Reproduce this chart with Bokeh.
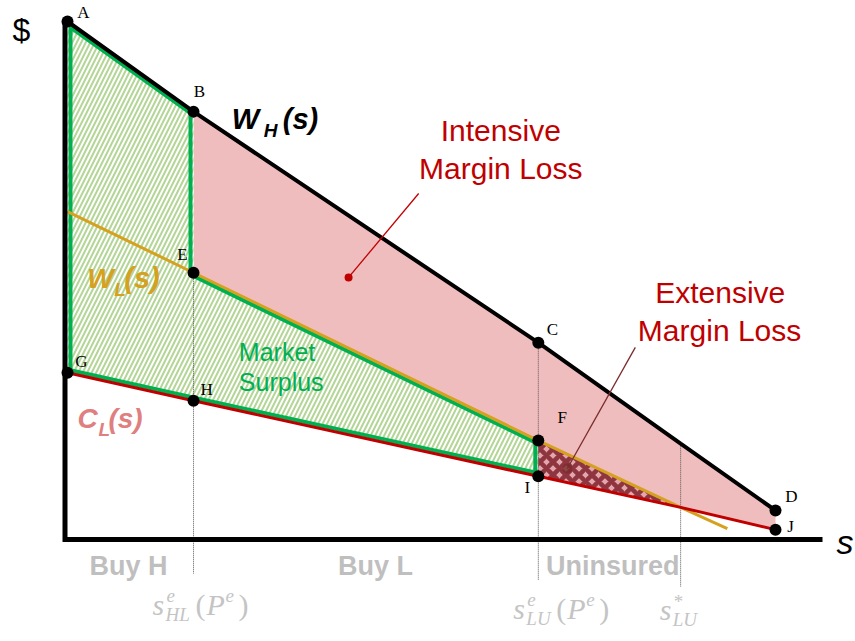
import numpy as np
from bokeh.plotting import figure
from bokeh.models import Range1d
from bokeh.core.properties import value
from bokeh.embed import file_html
from bokeh.resources import INLINE

# ---------------- data ----------------
# s positions: 0, s^e_HL(P^e), s^e_LU(P^e), s*_LU, s_max
s_keys = [0.0, 1.78, 6.65, 8.66, 10.0]
W_H_vals = [10.0, 8.26, 3.80, 1.85, 0.56]
W_L_s = [0.0, 1.78, 6.65, 8.66, 9.32]
W_L_vals = [6.33, 5.15, 1.91, 0.62, 0.21]
C_L_vals = [3.22, 2.68, 1.22, 0.62, 0.19]
point_names = ["A", "B", "C", "D", "E", "F", "G", "H", "I", "J"]
region_labels = ["Buy H", "Buy L", "Uninsured"]
region_centers = [0.86, 4.35, 7.70]

# ---------------- scale (pixels per data unit) ----------------
PXS = 70.8
PXD = 51.8
W, H = 854, 640
x0 = -67 / PXS
y1 = 539 / PXD
xr = Range1d(x0, x0 + W / PXS)
yr = Range1d(y1 - H / PXD, y1)

p = figure(width=W, height=H, x_range=xr, y_range=yr, output_backend="svg",
           toolbar_location=None, x_axis_type=None, y_axis_type=None, min_border=0)
p.grid.visible = False
p.outline_line_color = None
p.background_fill_color = "white"
p.border_fill_color = "white"

s0, s1, s2, s3, s4 = s_keys
pt = {
    "A": (s0, W_H_vals[0]), "B": (s1, W_H_vals[1]), "C": (s2, W_H_vals[2]), "D": (s4, W_H_vals[4]),
    "E": (s1, W_L_vals[1]), "F": (s2, W_L_vals[2]),
    "G": (s0, C_L_vals[0]), "H": (s1, C_L_vals[1]), "I": (s2, C_L_vals[2]), "J": (s4, C_L_vals[4]),
}
X = (s3, W_L_vals[3])  # crossing of W_L and C_L

GREEN = "#00b050"
RED = "#c00000"
GOLD = "#d5a11e"
PINK = "#efbdbd"

# pink: intensive margin loss region
pink = [pt["B"], pt["C"], pt["D"], pt["J"], X, pt["F"], pt["E"]]
p.patch([q[0] for q in pink], [q[1] for q in pink], fill_color=PINK, line_color=None)

# green hatched market surplus
green = [pt["A"], pt["B"], pt["E"], pt["F"], pt["I"], pt["H"], pt["G"]]
p.patch([q[0] for q in green], [q[1] for q in green], fill_color="white", fill_alpha=1.0,
        line_color=None, hatch_pattern="/", hatch_color="#b3d596", hatch_scale=9, hatch_weight=2)

# checker: extensive margin loss
chk = [pt["F"], pt["I"], X]
p.patch([q[0] for q in chk], [q[1] for q in chk], fill_color="#e3a6ad", line_color=None,
        hatch_pattern="diagonal_cross", hatch_color="#8e3540", hatch_scale=13, hatch_weight=4.5)

# dotted verticals
for sx, top, bot in [(s1, W_L_vals[1], 573), (s2, W_H_vals[2], 580), (s3, W_H_vals[3], 586)]:
    p.line([sx, sx], [top, (539 - bot) / PXD], line_color="#555555", line_width=1, line_dash="1 1")

# inset green outline (computed in pixel space)
def inset(poly, d):
    P = [np.array([x * PXS, y * PXD]) for x, y in poly]
    n = len(P)
    lines = []
    for i in range(n):
        a, b = P[i], P[(i + 1) % n]
        r = b - a
        nrm = np.array([r[1], -r[0]]) / np.hypot(*r)
        lines.append((a + nrm * d, r))
    out = []
    for i in range(n):
        (p1, r1), (p2, r2) = lines[i - 1], lines[i]
        cr = r1[0] * r2[1] - r1[1] * r2[0]
        q = p2 - p1
        t = (q[0] * r2[1] - q[1] * r2[0]) / cr
        v = p1 + t * r1
        out.append((v[0] / PXS, v[1] / PXD))
    return out

gi = inset(green, 3.0)
p.patch([q[0] for q in gi], [q[1] for q in gi], fill_color=None, line_color=GREEN,
        line_width=4, line_join="miter")

# curves
p.line(W_L_s, W_L_vals, line_color=GOLD, line_width=3)
p.line(s_keys, C_L_vals, line_color=RED, line_width=3)
p.line(s_keys, W_H_vals, line_color="black", line_width=4)

# axes
ax = -2.5 / PXS
p.line([ax, ax, (822 - 67) / PXS], [W_H_vals[0], 0, 0], line_color="black", line_width=5,
       line_join="miter")

# dots
p.scatter([pt[k][0] for k in point_names], [pt[k][1] for k in point_names], size=12,
          fill_color="black", line_color=None)

# text helpers (baseline correction for the renderer)
def by(y, size):
    return y + 0.34 * size / PXD

offs = {"A": (16, 3), "B": (6, 14), "C": (14, 7), "D": (16, 8), "E": (-11, 12), "F": (24, 17),
        "G": (14, 5), "H": (13, 5), "I": (-11, -17), "J": (15, -3)}
p.text([pt[k][0] + offs[k][0] / PXS for k in point_names],
       [by(pt[k][1] + offs[k][1] / PXD, 17) for k in point_names], text=point_names,
       text_font=value("Liberation Serif"), text_font_size="17px", text_color="black",
       text_align="center", text_baseline="alphabetic")

def txt(x, y, s, size, color, style="normal", font="Liberation Sans", align="left"):
    p.text([x], [by(y, size)], text=[s], text_font=value(font), text_font_size=f"{size}px",
           text_font_style=value(style), text_color=color, text_align=align,
           text_baseline="alphabetic")

def compose(xl, yb, pieces, color, font):
    for s, dx, dy, size, style in pieces:
        txt(xl + dx / PXS, yb + dy / PXD, s, size, color, style, font)

# curve labels
compose(2.32, 7.93, [("W", 0, 0, 29, "bold italic"), ("H", 32, -8, 19, "bold italic"),
                     ("(s)", 51, 0, 29, "bold italic")], "black", "Liberation Sans")
compose(0.28, 4.86, [("W", 0, 0, 28, "bold italic"), ("L", 27, -8, 19, "bold italic"),
                     ("(s)", 37, 0, 29, "bold italic")], GOLD, "Liberation Sans")
compose(0.14, 2.16, [("C", 0, 0, 28, "bold italic"), ("L", 21, -8, 19, "bold italic"),
                     ("(s)", 31, 0, 28, "bold italic")], "#e07f7f", "Liberation Sans")

# axis labels
txt(-0.65, 9.63, "$", 32, "black", align="center")
txt((836 - 67) / PXS, -0.27, "s", 34, "black", style="italic")

# annotations
txt(6.12, 7.70, "Intensive", 30, RED, align="center")
txt(6.12, 6.97, "Margin Loss", 30, RED, align="center")
txt(9.22, 4.58, "Extensive", 30, RED, align="center")
txt(9.21, 3.84, "Margin Loss", 30, RED, align="center")
txt(2.42, 3.46, "Market", 25, GREEN)
txt(2.42, 2.88, "Surplus", 25, GREEN)

p.line([3.97, 4.96], [5.06, 6.68], line_color=RED, line_width=1.3)
p.scatter([3.97], [5.06], size=8, fill_color=RED, line_color=None)
p.line([7.06, 8.02], [1.37, 3.71], line_color="#7b2c2c", line_width=1.3)
p.scatter([7.06], [1.37], size=10, fill_color="#7b2c2c", fill_alpha=0.8, line_color=None)

# region labels
for c, lab in zip(region_centers, region_labels):
    txt(c, -0.68, lab, 27, "#bfbfbf", style="bold", align="center")

# threshold labels (math)
MG = "#c4c4c4"
SER = "Liberation Serif"
compose(s1 - 41 / PXS, -1.45, [("s", 0, 0, 30, "italic"), ("e", 14, 13, 19, "italic"),
                               ("HL", 13, -6, 19, "italic"), ("(", 43, 0, 30, "normal"),
                               ("P", 54, 0, 30, "italic"), ("e", 73, 13, 19, "italic"),
                               (")", 86, 0, 30, "normal")], MG, SER)
compose(s2 - 25 / PXS, -1.53, [("s", 0, 0, 30, "italic"), ("e", 14, 13, 19, "italic"),
                               ("LU", 13, -6, 19, "italic"), ("(", 43, 0, 30, "normal"),
                               ("P", 54, 0, 30, "italic"), ("e", 73, 13, 19, "italic"),
                               (")", 86, 0, 30, "normal")], MG, SER)
compose(s3 - 21 / PXS, -1.55, [("s", 0, 0, 30, "italic"), ("*", 14, 12, 19, "normal"),
                               ("LU", 13, -6, 19, "italic")], MG, SER)

open("out.html", "w").write(file_html(p, INLINE))
